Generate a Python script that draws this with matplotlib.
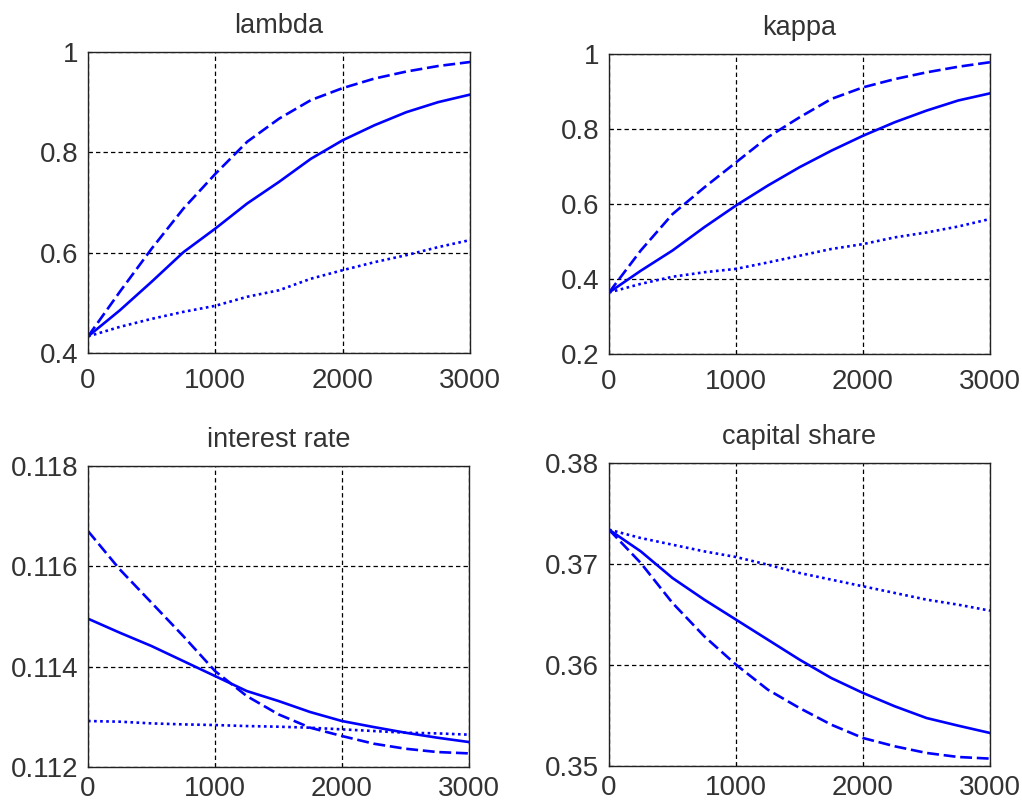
import numpy as np
import matplotlib
matplotlib.use("Agg")
import matplotlib.pyplot as plt

plt.rcParams['font.family'] = ['Liberation Sans', 'DejaVu Sans']

x = [0, 250, 500, 750, 1000, 1250, 1500, 1750, 2000, 2250, 2500, 2750, 3000]

lambda_solid = [0.433, 0.485, 0.542, 0.601, 0.648, 0.698, 0.741, 0.787, 0.824, 0.854, 0.880, 0.900, 0.915]
lambda_dashed = [0.433, 0.522, 0.608, 0.688, 0.757, 0.821, 0.867, 0.904, 0.928, 0.947, 0.961, 0.972, 0.980]
lambda_dotted = [0.433, 0.452, 0.468, 0.482, 0.494, 0.512, 0.525, 0.548, 0.565, 0.581, 0.595, 0.611, 0.625]

kappa_solid = [0.364, 0.422, 0.476, 0.538, 0.596, 0.649, 0.698, 0.742, 0.782, 0.818, 0.849, 0.876, 0.895]
kappa_dashed = [0.364, 0.476, 0.573, 0.644, 0.711, 0.778, 0.831, 0.880, 0.911, 0.933, 0.951, 0.966, 0.978]
kappa_dotted = [0.364, 0.387, 0.406, 0.418, 0.427, 0.444, 0.462, 0.480, 0.493, 0.511, 0.524, 0.540, 0.560]

rate_solid = [0.114957, 0.114678, 0.114412, 0.114113, 0.113814, 0.113515, 0.113316, 0.113096,
              0.112917, 0.112797, 0.112684, 0.112585, 0.112498]
rate_dashed = [0.116704, 0.115940, 0.115276, 0.114611, 0.113914, 0.113415, 0.113050, 0.112784,
               0.112618, 0.112465, 0.112365, 0.112299, 0.112272]
rate_dotted = [0.112917, 0.112904, 0.112870, 0.112850, 0.112837, 0.112817, 0.112804, 0.112784,
               0.112751, 0.112718, 0.112684, 0.112671, 0.112645]

share_solid = [0.37340, 0.37125, 0.36861, 0.36647, 0.36449, 0.36251, 0.36053, 0.35871,
               0.35723, 0.35591, 0.35475, 0.35399, 0.35327]
share_dashed = [0.37340, 0.37010, 0.36614, 0.36284, 0.36003, 0.35756, 0.35574, 0.35409,
                0.35277, 0.35195, 0.35129, 0.35089, 0.35073]
share_dotted = [0.37340, 0.37257, 0.37191, 0.37125, 0.37069, 0.36993, 0.36911, 0.36845,
                0.36779, 0.36713, 0.36647, 0.36597, 0.36538]

titles = ["lambda", "kappa", "interest rate", "capital share"]
xticks = [0, 1000, 2000, 3000]
yticks = [
    [0.4, 0.6, 0.8, 1.0],
    [0.2, 0.4, 0.6, 0.8, 1.0],
    [0.112, 0.114, 0.116, 0.118],
    [0.35, 0.36, 0.37, 0.38],
]
ylabels = [
    ["0.4", "0.6", "0.8", "1"],
    ["0.2", "0.4", "0.6", "0.8", "1"],
    ["0.112", "0.114", "0.116", "0.118"],
    ["0.35", "0.36", "0.37", "0.38"],
]
series = [
    (lambda_solid, lambda_dashed, lambda_dotted),
    (kappa_solid, kappa_dashed, kappa_dotted),
    (rate_solid, rate_dashed, rate_dotted),
    (share_solid, share_dashed, share_dotted),
]

fig = plt.figure(figsize=(10.22, 8.02), dpi=100)
rects = [
    [0.0861, 0.5599, 0.3738, 0.3753],
    [0.5959, 0.5586, 0.3728, 0.3741],
    [0.0861, 0.0436, 0.3728, 0.3753],
    [0.5959, 0.0449, 0.3728, 0.3778],
]
xpads = [11, 11, 6.5, 6.5]
blue = "#0000FF"
textc = '#333333'
for i in range(4):
    ax = fig.add_axes(rects[i])
    s, d, o = series[i]
    ax.plot(x, s, color=blue, lw=1.9, ls='-')
    ax.plot(x, d, color=blue, lw=1.9, ls=(0, (4.5, 1.8)))
    ax.plot(x, o, color=blue, lw=1.9, ls=(0, (1, 1.3)))
    ax.set_xlim(0, 3000)
    ax.set_ylim(yticks[i][0], yticks[i][-1])
    ax.set_xticks(xticks)
    ax.set_xticklabels([str(v) for v in xticks])
    ax.set_yticks(yticks[i])
    ax.set_yticklabels(ylabels[i])
    ax.grid(True, color='black', ls=(0, (3.5, 2.5)), lw=0.9)
    ax.tick_params(direction='in', length=3, labelsize=20, colors='black', labelcolor=textc)
    ax.tick_params(axis='x', pad=xpads[i])
    ax.tick_params(axis='y', pad=7)
    for sp in ax.spines.values():
        sp.set_linewidth(1.0)
        sp.set_color('#222222')
    ax.set_title(titles[i], fontsize=19.5, color=textc, pad=13.5)

fig.savefig("out.png", dpi=100, facecolor='white')
